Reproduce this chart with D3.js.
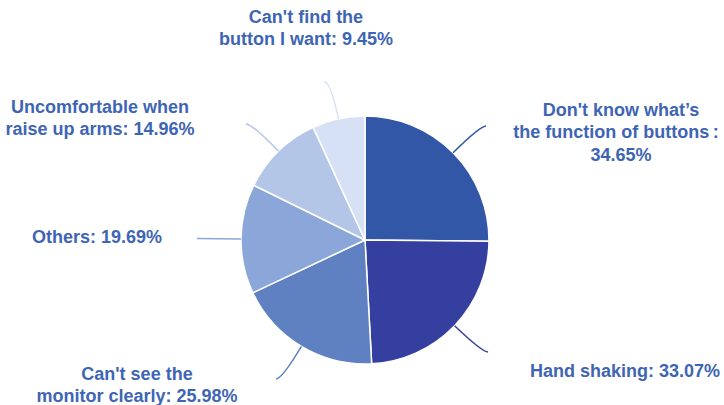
<!DOCTYPE html>
<html>
<head>
<meta charset="utf-8">
<script src="https://cdn.jsdelivr.net/npm/d3@7/dist/d3.min.js"></script>
<style>
  html, body { margin: 0; padding: 0; background: #ffffff; }
  svg { display: block; }
  .lbl { font-family: "Liberation Sans", Arial, sans-serif; font-weight: bold; font-size: 18px; fill: #3e65b4; }
</style>
</head>
<body>
<svg id="chart" width="724" height="405"></svg>
<script>
// Survey: problems reported with the control buttons
const categories = [
  "Don't know what’s the function of buttons",
  "Hand shaking",
  "Can't see the monitor clearly",
  "Others",
  "Uncomfortable when raise up arms",
  "Can't find the button I want"
];
const values = [34.65, 33.07, 25.98, 19.69, 14.96, 9.45];
const labelLines = [
  ["Don't know what’s", "the function of buttons\u2009:", "34.65%"],
  ["Hand shaking: 33.07%"],
  ["Can't see the", "monitor clearly: 25.98%"],
  ["Others: 19.69%"],
  ["Uncomfortable when", "raise up arms: 14.96%"],
  ["Can't find the", "button I want: 9.45%"]
];
const colors = ["#3157a6", "#353f9f", "#5f80c1", "#8ba7d9", "#b4c6e8", "#d6e1f5"];

// Label placement (anchor x, first baseline y, text-anchor, per-line x nudge)
// and the side the leader-line tail turns toward
const labelLayout = [
  { x: 621, y: 116, anchor: "middle", dir: 1, nudge: [0, -5, 0] },
  { x: 530, y: 377, anchor: "start", dir: 1 },
  { x: 137, y: 380, anchor: "middle", dir: -1 },
  { x: 32,  y: 243, anchor: "start", dir: -1 },
  { x: 100, y: 113, anchor: "middle", dir: -1 },
  { x: 306, y: 23,  anchor: "middle", dir: -1 }
];

const cx = 365, cy = 240, radius = 124;
const lineHeight = 22.3;

const svg = d3.select("#chart");
const g = svg.append("g").attr("transform", `translate(${cx},${cy})`);

const pie = d3.pie().sort(null).value(d => d);
const arcs = pie(values);

const arc = d3.arc().innerRadius(0).outerRadius(radius);
const edgeArc = d3.arc().innerRadius(radius).outerRadius(radius);
const elbowArc = d3.arc().innerRadius(162).outerRadius(162);

g.selectAll("path.slice")
  .data(arcs)
  .join("path")
  .attr("class", "slice")
  .attr("d", arc)
  .attr("fill", (d, i) => colors[i])
  .attr("stroke", "#ffffff")
  .attr("stroke-width", 1.5)
  .attr("stroke-linejoin", "round");

// Leader lines: radial run from the rim, bending into a short horizontal tail
g.selectAll("path.leader")
  .data(arcs)
  .join("path")
  .attr("class", "leader")
  .attr("d", (d, i) => {
    const [sx, sy] = edgeArc.centroid(d);
    const [ex, ey] = elbowArc.centroid(d);
    const tx = ex + labelLayout[i].dir * 6;
    return `M${sx},${sy}Q${ex},${ey} ${tx},${ey}`;
  })
  .attr("fill", "none")
  .attr("stroke", (d, i) => colors[i])
  .attr("stroke-width", 1.5);

// Labels
const labels = svg.selectAll("text.lbl")
  .data(arcs)
  .join("text")
  .attr("class", "lbl")
  .attr("text-anchor", (d, i) => labelLayout[i].anchor)
  .attr("x", (d, i) => labelLayout[i].x)
  .attr("y", (d, i) => labelLayout[i].y);

labels.each(function(d, i) {
  const lay = labelLayout[i];
  d3.select(this).selectAll("tspan")
    .data(labelLines[i])
    .join("tspan")
    .attr("x", (t, j) => lay.x + (lay.nudge ? lay.nudge[j] : 0))
    .attr("dy", (t, j) => j === 0 ? 0 : lineHeight)
    .text(t => t);
});
</script>
</body>
</html>
